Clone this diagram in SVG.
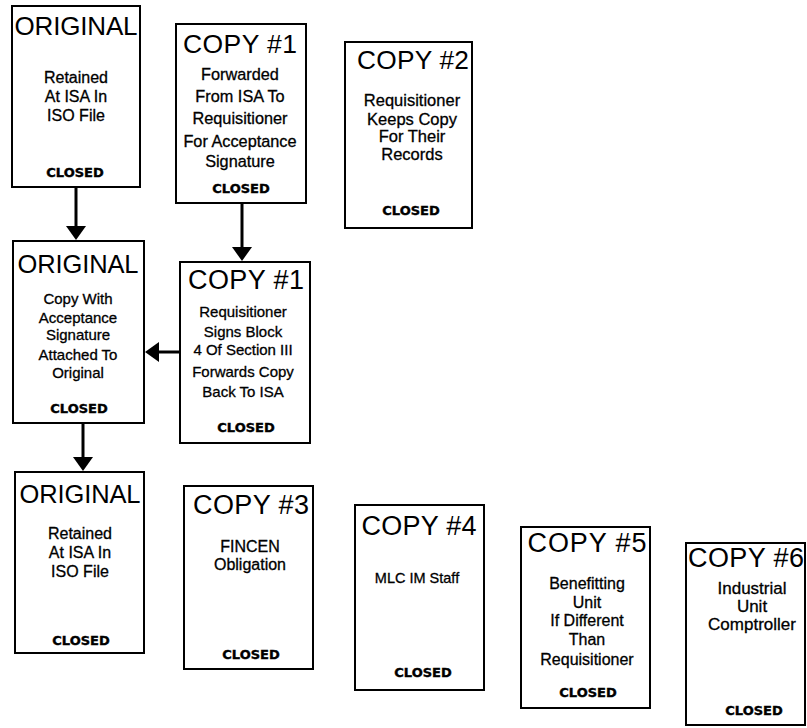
<svg xmlns="http://www.w3.org/2000/svg" width="807" height="728" viewBox="0 0 807 728">
<style>
.box{fill:#fff;stroke:#000;stroke-width:2}
.t{font-family:"Liberation Sans",Arial,sans-serif;text-anchor:middle;fill:#000}
.b{font-family:"Liberation Sans",Arial,sans-serif;text-anchor:middle;fill:#000;stroke:#000;stroke-width:0.3}
.c{font-family:"DejaVu Sans",sans-serif;font-weight:bold;font-size:13px;text-anchor:middle;fill:#000;stroke:#000;stroke-width:0.4}
.con{stroke:#000;stroke-width:3;fill:none;marker-end:url(#ah)}
</style>
<defs>
<marker id="ah" markerUnits="userSpaceOnUse" markerWidth="22" markerHeight="22" refX="4" refY="10" orient="auto">
<path d="M0,0 L14,10 L0,20 Z" fill="#000"/>
</marker>
</defs>
<rect width="807" height="728" fill="#fff"/>
<g id="connectors">
<line class="con" x1="76" y1="187" x2="76" y2="230"/>
<line class="con" x1="242" y1="203" x2="242" y2="251"/>
<line class="con" x1="180" y1="352" x2="155" y2="352"/>
<line class="con" x1="83" y1="423" x2="83" y2="461"/>
</g>
<g id="original-1">
<rect class="box" x="12" y="6" width="128" height="181"/>
<text class="t" x="76" y="35" font-size="26" textLength="123" lengthAdjust="spacing">ORIGINAL</text>
<text class="b" font-size="16"><tspan x="76" y="83">Retained</tspan><tspan x="76" y="102">At ISA In</tspan><tspan x="76" y="121">ISO File</tspan></text>
<text class="c" x="75" y="177">CLOSED</text>
</g>
<g id="copy1-a">
<rect class="box" x="176" y="24" width="130" height="179"/>
<text class="t" x="240" y="53" font-size="26.5" textLength="114" lengthAdjust="spacing">COPY #1</text>
<text class="b" font-size="16.3"><tspan x="240" y="80">Forwarded</tspan><tspan x="240" y="102">From ISA To</tspan><tspan x="240" y="124">Requisitioner</tspan><tspan x="240" y="147">For Acceptance</tspan><tspan x="240" y="167">Signature</tspan></text>
<text class="c" x="241" y="193">CLOSED</text>
</g>
<g id="copy2">
<rect class="box" x="345" y="42" width="127" height="186"/>
<text class="t" x="413" y="69" font-size="26.3" textLength="112" lengthAdjust="spacing">COPY #2</text>
<text class="b" font-size="16.5"><tspan x="412" y="106">Requisitioner</tspan><tspan x="412" y="125">Keeps Copy</tspan><tspan x="412" y="142">For Their</tspan><tspan x="412" y="160">Records</tspan></text>
<text class="c" x="411" y="215">CLOSED</text>
</g>
<g id="original-2">
<rect class="box" x="13" y="241" width="131" height="182"/>
<text class="t" x="78" y="273" font-size="25.5" textLength="121" lengthAdjust="spacing">ORIGINAL</text>
<text class="b" font-size="15"><tspan x="78" y="304">Copy With</tspan><tspan x="78" y="323">Acceptance</tspan><tspan x="78" y="340">Signature</tspan><tspan x="78" y="360">Attached To</tspan><tspan x="78" y="378">Original</tspan></text>
<text class="c" x="79" y="413">CLOSED</text>
</g>
<g id="copy1-b">
<rect class="box" x="180" y="262" width="130" height="181"/>
<text class="t" x="246" y="289" font-size="27" textLength="116" lengthAdjust="spacing">COPY #1</text>
<text class="b" font-size="15"><tspan x="243" y="317">Requisitioner</tspan><tspan x="243" y="337">Signs Block</tspan><tspan x="243" y="355">4 Of Section III</tspan><tspan x="243" y="377">Forwards Copy</tspan><tspan x="243" y="397">Back To ISA</tspan></text>
<text class="c" x="246" y="432">CLOSED</text>
</g>
<g id="original-3">
<rect class="box" x="15" y="472" width="129" height="181"/>
<text class="t" x="80" y="503" font-size="25.5" textLength="121" lengthAdjust="spacing">ORIGINAL</text>
<text class="b" font-size="16"><tspan x="80" y="539">Retained</tspan><tspan x="80" y="558">At ISA In</tspan><tspan x="80" y="577">ISO File</tspan></text>
<text class="c" x="81" y="645">CLOSED</text>
</g>
<g id="copy3">
<rect class="box" x="184" y="486" width="129" height="183"/>
<text class="t" x="251" y="514" font-size="27" textLength="116" lengthAdjust="spacing">COPY #3</text>
<text class="b" font-size="16"><tspan x="250" y="552">FINCEN</tspan><tspan x="250" y="570">Obligation</tspan></text>
<text class="c" x="251" y="659">CLOSED</text>
</g>
<g id="copy4">
<rect class="box" x="355" y="505" width="129" height="185"/>
<text class="t" x="419" y="535" font-size="27" textLength="115" lengthAdjust="spacing">COPY #4</text>
<text class="b" x="417" y="583" font-size="14.5">MLC IM Staff</text>
<text class="c" x="423" y="677">CLOSED</text>
</g>
<g id="copy5">
<rect class="box" x="521" y="527" width="129" height="181"/>
<text class="t" x="587" y="552" font-size="27" textLength="119" lengthAdjust="spacing">COPY #5</text>
<text class="b" font-size="16"><tspan x="587" y="589">Benefitting</tspan><tspan x="587" y="608">Unit</tspan><tspan x="587" y="626">If Different</tspan><tspan x="587" y="645">Than</tspan><tspan x="587" y="665">Requisitioner</tspan></text>
<text class="c" x="588" y="697">CLOSED</text>
</g>
<g id="copy6">
<rect class="box" x="686" y="543" width="119" height="182"/>
<text class="t" x="746" y="567" font-size="27" textLength="116" lengthAdjust="spacing">COPY #6</text>
<text class="b" font-size="17"><tspan x="752" y="594">Industrial</tspan><tspan x="752" y="612">Unit</tspan><tspan x="752" y="630">Comptroller</tspan></text>
<text class="c" x="754" y="715">CLOSED</text>
</g>
</svg>
